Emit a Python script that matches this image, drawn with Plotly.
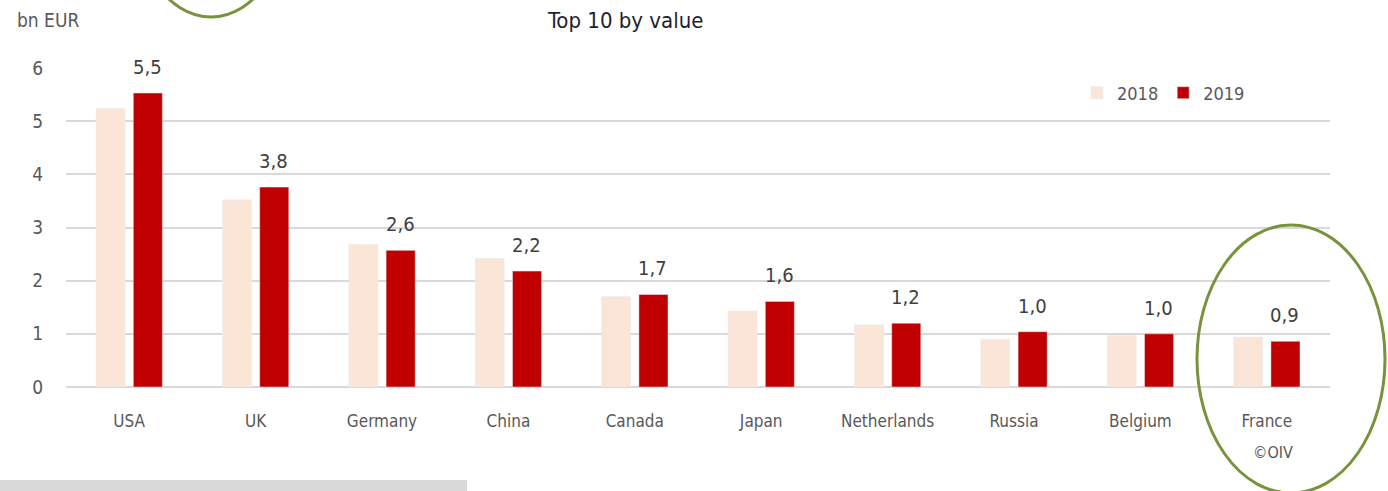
import plotly.graph_objects as go

countries = ["USA", "UK", "Germany", "China", "Canada", "Japan", "Netherlands", "Russia", "Belgium", "France"]
values_2018 = [5.24, 3.52, 2.68, 2.42, 1.70, 1.43, 1.17, 0.90, 0.97, 0.94]
values_2019 = [5.53, 3.76, 2.57, 2.18, 1.74, 1.61, 1.20, 1.04, 1.00, 0.86]
y_ticks = [0, 1, 2, 3, 4, 5, 6]

W, H = 1388, 491
L, R, T, B = 66, 58, 68, 104
FONT = "DejaVu Sans Condensed, Liberation Sans Narrow, Arial Narrow, sans-serif"
TXT = "#595959"

def px(x):
    return (x - L) / (W - L - R)

def py(y):
    return (H - B - y) / (H - T - B)

fig = go.Figure()
fig.add_trace(go.Bar(x=countries, y=values_2018, name="2018", marker_color="#fbe5d6"))
fig.add_trace(go.Bar(x=countries, y=values_2019, name="2019", marker_color="#c00000"))

for c, v in zip(countries, values_2019):
    fig.add_annotation(x=c, y=v, text=f"{v:.1f}".replace(".", ","), showarrow=False,
                       xshift=18, yshift=12, yanchor="bottom",
                       font=dict(family=FONT, size=20, color="#404040"))

fig.add_annotation(xref="paper", yref="paper", x=px(15), y=py(20), text="bn EUR",
                   showarrow=False, xanchor="left", yanchor="middle",
                   font=dict(family=FONT, size=19, color=TXT))
fig.add_annotation(xref="paper", yref="paper", x=px(625), y=py(20), text="Top 10 by value",
                   showarrow=False, xanchor="center", yanchor="middle",
                   font=dict(family=FONT, size=22, color="#1f1f2f"))
fig.add_annotation(xref="paper", yref="paper", x=px(1273), y=py(452), text="©OIV",
                   showarrow=False, xanchor="center", yanchor="middle",
                   font=dict(family=FONT, size=16, color=TXT))

# decorative highlight ellipses and bottom strip
fig.add_shape(type="circle", xref="paper", yref="paper",
              x0=px(1197), x1=px(1385), y0=py(225), y1=py(493),
              line=dict(color="#77933c", width=3), layer="above")
fig.add_shape(type="circle", xref="paper", yref="paper",
              x0=px(127), x1=px(295), y0=py(-249), y1=py(17),
              line=dict(color="#77933c", width=3), layer="above")
fig.add_shape(type="rect", xref="paper", yref="paper",
              x0=px(0), x1=px(467), y0=py(480), y1=py(491),
              line=dict(width=0), fillcolor="#d9d9d9", layer="above")

fig.update_layout(
    width=W, height=H,
    margin=dict(l=L, r=R, t=T, b=B, pad=0),
    paper_bgcolor="white", plot_bgcolor="white",
    barmode="group", bargap=0.41, bargroupgap=0.22,
    font=dict(family=FONT, size=18, color=TXT),
    showlegend=True,
    legend=dict(orientation="h", x=px(1077), y=py(93), xanchor="left", yanchor="middle",
                font=dict(family=FONT, size=18, color=TXT), bgcolor="rgba(0,0,0,0)",
                itemwidth=30, traceorder="normal"),
    xaxis=dict(showline=False, showgrid=False, ticks="", ticklabelstandoff=22,
               tickfont=dict(family=FONT, size=17, color=TXT)),
    yaxis=dict(range=[0, 6], tickvals=y_ticks, showgrid=True, gridcolor="#d9d9d9", gridwidth=1.5,
               zeroline=True, zerolinecolor="#d9d9d9", zerolinewidth=1.5,
               showline=False, ticks="", ticklabelstandoff=22,
               tickfont=dict(family=FONT, size=19, color=TXT)),
)

fig.write_html("out.html", config={"displayModeBar": False},
               post_script="document.body.style.margin='0';document.body.style.overflow='hidden';")
